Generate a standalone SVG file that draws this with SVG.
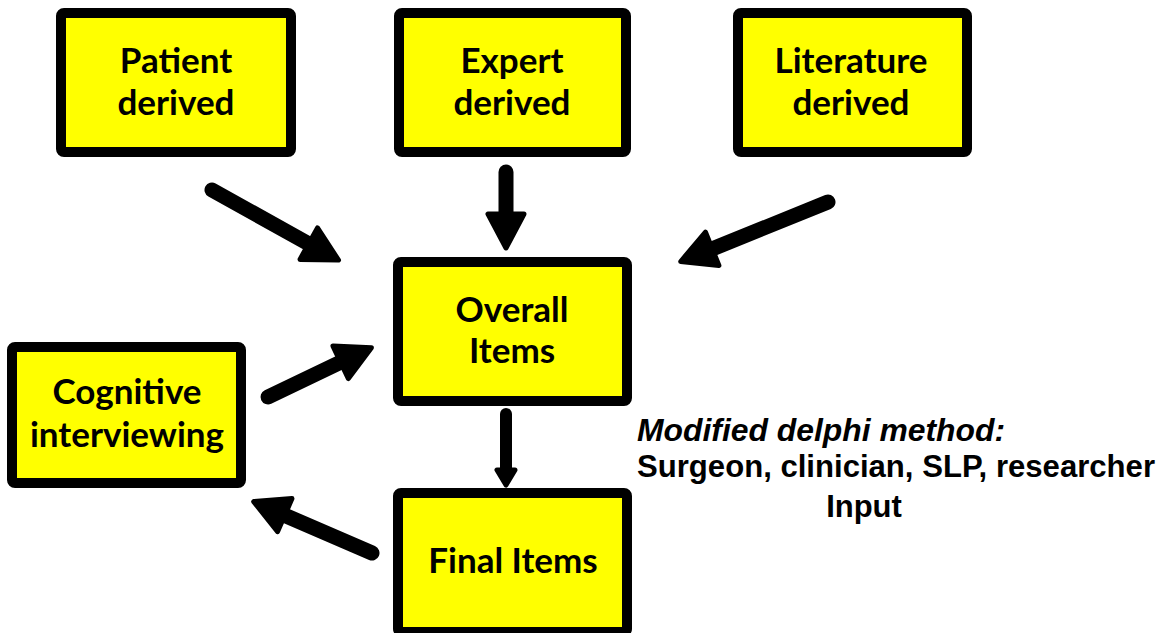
<svg xmlns="http://www.w3.org/2000/svg" width="1166" height="633" viewBox="0 0 1166 633">
  <style>
    .box { fill: #ffff00; stroke: #000; stroke-width: 10; }
    .lbl { font-family: Lato, "Open Sans", sans-serif; font-weight: bold; font-size: 35px; fill: #000; text-anchor: middle; }
    .shaft { stroke: #000; stroke-width: 15; stroke-linecap: round; fill: none; }
    .head { fill: #000; stroke: #000; stroke-width: 5; stroke-linejoin: round; }
    .note { font-family: "Liberation Sans", Arial, sans-serif; font-weight: bold; font-size: 31px; fill: #000; }
  </style>
  <rect width="1166" height="633" fill="#fff"/>

  <g id="connectors">
    <!-- Patient derived -> Overall Items -->
    <line class="shaft" x1="212" y1="190" x2="309" y2="244"/>
    <polygon class="head" points="338.5,260.1 300,259.4 317.5,227.9"/>
    <!-- Expert derived -> Overall Items -->
    <line class="shaft" x1="506" y1="172" x2="506" y2="216"/>
    <polygon class="head" points="506,248 488,214 524,214"/>
    <!-- Literature derived -> Overall Items -->
    <line class="shaft" x1="828" y1="202" x2="712" y2="249"/>
    <polygon class="head" points="680.7,261.5 705.5,232.1 718.9,265.5"/>
    <!-- Cognitive interviewing -> Overall Items -->
    <line class="shaft" x1="268" y1="397" x2="341" y2="362"/>
    <polygon class="head" points="371.4,347.7 348.4,378.6 333,346.1"/>
    <!-- Overall Items -> Final Items -->
    <line class="shaft" style="stroke-width:12" x1="506" y1="414" x2="506" y2="472"/>
    <polygon class="head" points="506,485 497,470 515,470"/>
    <!-- Final Items -> Cognitive interviewing -->
    <line class="shaft" x1="372" y1="553" x2="284" y2="515"/>
    <polygon class="head" points="253.7,501.6 292,498.6 277.6,531.6"/>
  </g>

  <g id="patient">
    <rect class="box" x="61" y="13" width="230" height="139" rx="3"/>
    <text class="lbl" x="176" y="73">Patient</text>
    <text class="lbl" x="176" y="115">derived</text>
  </g>
  <g id="expert">
    <rect class="box" x="399" y="13" width="227" height="139" rx="3"/>
    <text class="lbl" x="512" y="73">Expert</text>
    <text class="lbl" x="512" y="115">derived</text>
  </g>
  <g id="literature">
    <rect class="box" x="738" y="13" width="229" height="139" rx="3"/>
    <text class="lbl" x="851" y="73">Literature</text>
    <text class="lbl" x="851" y="115">derived</text>
  </g>
  <g id="overall">
    <rect class="box" x="398" y="262" width="229" height="139" rx="3"/>
    <text class="lbl" x="512" y="322">Overall</text>
    <text class="lbl" x="512" y="363">Items</text>
  </g>
  <g id="cognitive">
    <rect class="box" x="12" y="347" width="229" height="136" rx="3"/>
    <text class="lbl" x="127" y="404">Cognitive</text>
    <text class="lbl" x="127" y="447">interviewing</text>
  </g>
  <g id="final">
    <rect class="box" x="398" y="493" width="229" height="139" rx="3"/>
    <text class="lbl" x="513" y="573">Final Items</text>
  </g>

  <g id="delphi-note">
    <text class="note" x="637" y="441" font-style="italic" textLength="368" lengthAdjust="spacingAndGlyphs">Modified delphi method:</text>
    <text class="note" x="637" y="477" textLength="518" lengthAdjust="spacingAndGlyphs">Surgeon, clinician, SLP, researcher</text>
    <text class="note" x="864" y="517" text-anchor="middle">Input</text>
  </g>
</svg>
